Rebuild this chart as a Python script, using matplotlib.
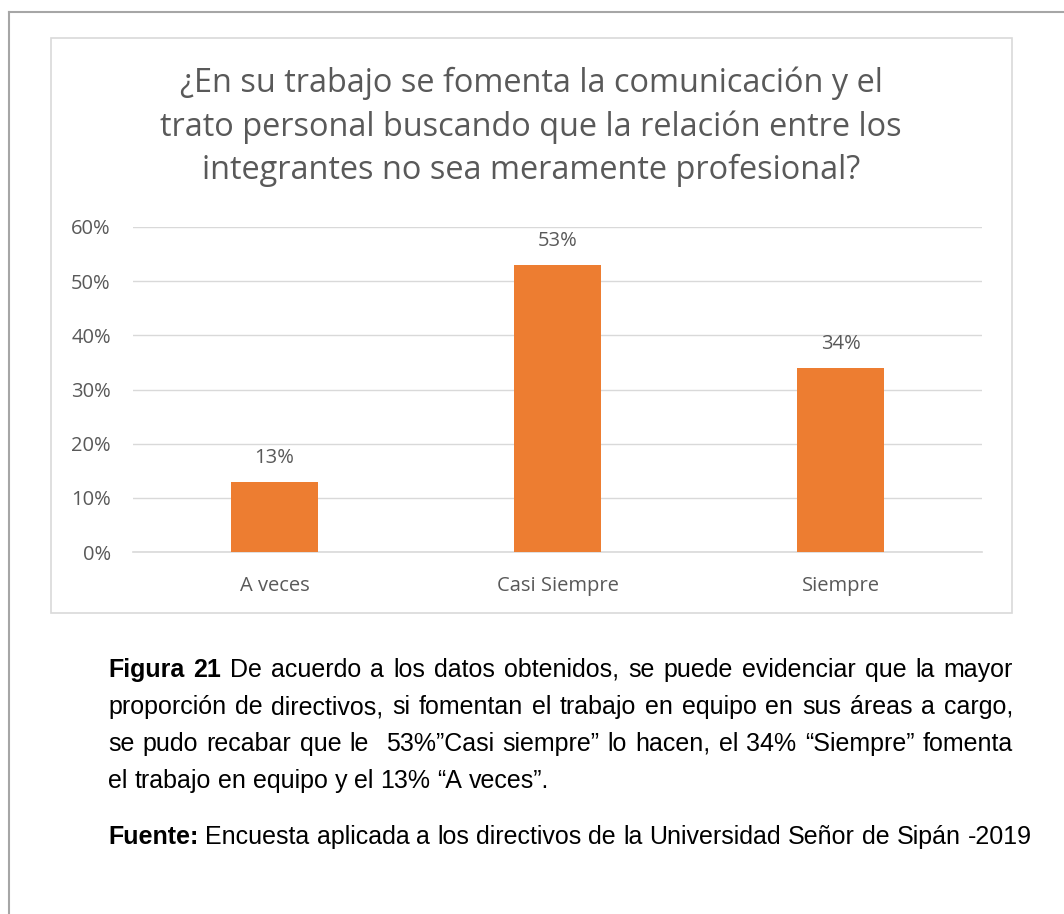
import matplotlib.pyplot as plt
from matplotlib.patches import Rectangle
from matplotlib.lines import Line2D

categorias = ['A veces', 'Casi Siempre', 'Siempre']
porcentajes = [13, 53, 34]
ticks_y = [0, 10, 20, 30, 40, 50, 60]

titulo = ('¿En su trabajo se fomenta la comunicación y el\n'
          'trato personal buscando que la relación entre los\n'
          'integrantes no sea meramente profesional?')

W, H = 1064, 914
fig = plt.figure(figsize=(W / 100, H / 100), dpi=100)


def fx(px):
    return px / W


def fy(py):
    return 1 - py / H


# marco exterior de la página
fig.add_artist(Line2D([fx(9), fx(9)], [fy(12), fy(914)], color='#a6a6a6', lw=1.5))
fig.add_artist(Line2D([fx(9), fx(1064)], [fy(12), fy(12)], color='#a6a6a6', lw=1.5))

# marco del gráfico
fig.add_artist(Rectangle((fx(51), fy(613)), fx(1012) - fx(51), fy(38) - fy(613),
                         transform=fig.transFigure, fill=False, ec='#d9d9d9', lw=1.2))

ax = fig.add_axes([fx(133), fy(552), fx(982) - fx(133), fy(227) - fy(552)])
x = range(len(categorias))
bars = ax.bar(x, porcentajes, width=0.31, color='#ed7d31', zorder=3)
ax.set_xlim(-0.5, 2.5)
ax.set_ylim(0, 60)
ax.set_yticks(ticks_y)
ax.set_yticklabels([f'{t}%' for t in ticks_y])
ax.set_xticks(list(x))
ax.set_xticklabels(categorias)
ax.yaxis.grid(True, color='#d9d9d9', lw=1, zorder=0)
ax.tick_params(length=0, labelsize=14.5, labelcolor='#595959')
ax.tick_params(axis='x', pad=17)
ax.tick_params(axis='y', pad=16)
for lab in ax.get_xticklabels() + ax.get_yticklabels():
    lab.set_family('Open Sans')
for s in ['top', 'right', 'left']:
    ax.spines[s].set_visible(False)
ax.spines['bottom'].set_color('#d9d9d9')
ax.spines['bottom'].set_linewidth(1.2)

for b, v in zip(bars, porcentajes):
    ax.annotate(f'{v}%', (b.get_x() + b.get_width() / 2, v), xytext=(0, 17),
                textcoords='offset points', ha='center', va='center',
                fontsize=14.5, color='#595959', family='Open Sans')

fig.text(fx(531), fy(127), titulo, ha='center', va='center', fontsize=23.4,
         color='#595959', family='Open Sans', linespacing=1.4)

# texto de la figura (justificado)
fig.canvas.draw()
r = fig.canvas.get_renderer()
FS = 18


def ancho(txt, bold=False):
    t = fig.text(0, 0, txt, fontsize=FS, family='Liberation Sans',
                 weight='bold' if bold else 'normal')
    w = t.get_window_extent(r).width
    t.remove()
    return w


def linea(partes, yy, x0=108, x1=1013, justificar=True):
    # partes: lista de (palabra, negrita)
    anchos = [ancho(p, b) for p, b in partes]
    espacio = ancho('a a') - ancho('aa')
    if justificar and len(partes) > 1:
        espacio = (x1 - x0 - sum(anchos)) / (len(partes) - 1)
    xx = x0
    for (p, b), w in zip(partes, anchos):
        fig.text(fx(xx), fy(yy), p, ha='left', va='center', fontsize=FS,
                 family='Liberation Sans', weight='bold' if b else 'normal',
                 color='black')
        xx += w + espacio


def palabras(txt, bold=False):
    return [(p, bold) for p in txt.split(' ')]


linea(palabras('Figura 21', True) +
      palabras('De acuerdo a los datos obtenidos, se puede evidenciar que la mayor'), 670)
linea(palabras('proporción de directivos, si fomentan el trabajo en equipo en sus áreas a cargo,'), 707)
linea(palabras('se pudo recabar que le  53%”Casi siempre” lo hacen, el 34% “Siempre” fomenta'), 744)
linea(palabras('el trabajo en equipo y el 13% “A veces”.'), 781, justificar=False)
linea(palabras('Fuente:', True) +
      palabras('Encuesta aplicada a los directivos de la Universidad Señor de Sipán -2019'),
      837, justificar=False)

fig.savefig('out.png', dpi=100)
